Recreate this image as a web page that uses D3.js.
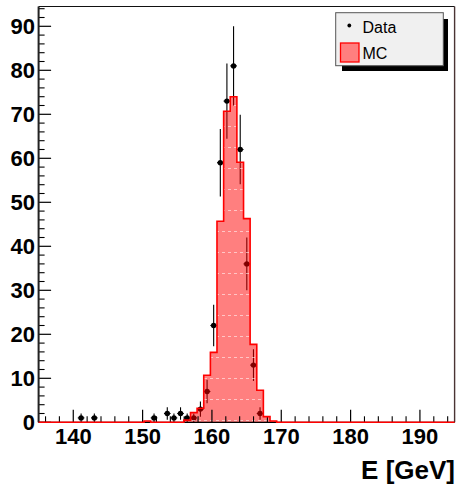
<!DOCTYPE html>
<html>
<head>
<meta charset="utf-8">
<script src="https://cdn.jsdelivr.net/npm/d3@7/dist/d3.min.js"></script>
<style>
  html, body { margin: 0; padding: 0; background: #fff; }
  svg { display: block; }
  text { font-family: "Liberation Sans", Arial, Helvetica, sans-serif; }
</style>
</head>
<body>
<svg id="chart" width="457" height="490"></svg>
<script>
// Histogram binning (GeV)
const binWidth = 0.956;

// Observed events: bin centres and counts
const dataE = [141.13, 143.04, 151.65, 153.56, 154.52, 155.47, 156.43, 157.38, 158.34,
               159.30, 160.25, 161.21, 162.16, 163.12, 164.08, 165.03, 165.99, 166.94];
const dataN = [1, 1, 1, 2, 1, 2, 1, 1, 3, 7, 22, 59, 73, 81, 62, 36, 13, 2];

// Simulated (MC) expectation: bin centres and contents
const mcE = [150.69, 156.43, 157.38, 158.34, 159.30, 160.25, 161.21, 162.16, 163.12,
             164.08, 165.03, 165.99, 166.94, 167.90, 168.86];
const mcN = [0.3, 0.5, 2.2, 3.2, 10.7, 15.9, 45.7, 70.7, 74.0, 59.1, 46.3, 17.7, 7.3, 1.3, 0.3];

// Axis setup
const xDomain = [135, 195];
const yDomain = [0, 94.5];
const xMajor = [140, 150, 160, 170, 180, 190];
const yMajor = [0, 10, 20, 30, 40, 50, 60, 70, 80, 90];
const xMinorStep = 2;
const yMinorStep = 2;

const legendLabels = ["Data", "MC"];
const xTitle = "E [GeV]";

const svg = d3.select("#chart");
const L = 38.6, R = 454.6, T = 6.5, B = 422.3;

const x = d3.scaleLinear().domain(xDomain).range([L, R]);
const y = d3.scaleLinear().domain(yDomain).range([B, T]);

// Fill pattern for the MC histogram: translucent red with faint light streaks
const defs = svg.append("defs");
const pat = defs.append("pattern")
  .attr("id", "mcfill")
  .attr("patternUnits", "userSpaceOnUse")
  .attr("x", 0).attr("y", 0)
  .attr("width", 6).attr("height", 21);
pat.append("rect").attr("x", 0).attr("y", 0).attr("width", 6).attr("height", 21)
  .attr("fill", "#ff0000").attr("fill-opacity", 0.5);
pat.append("rect").attr("x", 0).attr("y", 0).attr("width", 3).attr("height", 1)
  .attr("fill", "#fff").attr("fill-opacity", 0.55);

// Plot frame background
svg.append("rect").attr("x", L).attr("y", T).attr("width", R - L).attr("height", B - T)
  .attr("fill", "#fff");

// Data points with statistical error bars
const gData = svg.append("g");
dataE.forEach((e, i) => {
  const n = dataN[i], err = Math.sqrt(n);
  gData.append("line")
    .attr("x1", x(e)).attr("x2", x(e))
    .attr("y1", y(Math.max(0, n - err))).attr("y2", y(n + err))
    .attr("stroke", "#000").attr("stroke-width", 1.1);
  gData.append("line")
    .attr("x1", x(e - binWidth / 2)).attr("x2", x(e + binWidth / 2))
    .attr("y1", y(n)).attr("y2", y(n))
    .attr("stroke", "#000").attr("stroke-width", 1.1);
  gData.append("circle")
    .attr("cx", x(e)).attr("cy", y(n)).attr("r", 2.7)
    .attr("fill", "#000");
});

// MC histogram envelope: a step outline that only returns to zero across empty bins.
// Neighbouring bins share an edge, so each bin starts where the previous one ended.
const verts = [[xDomain[0], 0]];
let prevHi = null;
mcE.forEach((e, i) => {
  let lo = e - binWidth / 2;
  const hi = e + binWidth / 2;
  const adjacent = prevHi !== null && Math.abs(lo - prevHi) < 0.3 * binWidth;
  if (adjacent) {
    lo = prevHi;
  } else {
    if (prevHi !== null) verts.push([prevHi, 0]);
    verts.push([lo, 0]);
  }
  verts.push([lo, mcN[i]], [hi, mcN[i]]);
  prevHi = hi;
});
verts.push([prevHi, 0]);
verts.push([xDomain[1], 0]);

const area = d3.area().x(d => x(d[0])).y0(y(0)).y1(d => y(d[1]));
const line = d3.line().x(d => x(d[0])).y(d => y(d[1]));

svg.append("path").datum(verts).attr("d", area)
  .attr("fill", "url(#mcfill)").attr("stroke", "none");

// Frame and axes; ticks point into the plot
const gAx = svg.append("g").attr("stroke", "#000");
svg.append("line").attr("x1", L).attr("x2", R).attr("y1", T).attr("y2", T)
  .attr("stroke", "#111").attr("stroke-width", 1.2);
svg.append("line").attr("x1", R).attr("x2", R).attr("y1", T).attr("y2", B)
  .attr("stroke", "#4a3434").attr("stroke-width", 1.4);
svg.append("line").attr("x1", L).attr("x2", L).attr("y1", T).attr("y2", B)
  .attr("stroke", "#222").attr("stroke-width", 2);
svg.append("line").attr("x1", L).attr("x2", R).attr("y1", B).attr("y2", B)
  .attr("stroke", "#000").attr("stroke-width", 1.2);

const xMinor = d3.range(136, xDomain[1], xMinorStep).filter(v => !xMajor.includes(v));
const yMinor = d3.range(0, yDomain[1], yMinorStep).filter(v => !yMajor.includes(v));

xMajor.forEach(v => gAx.append("line").attr("x1", x(v)).attr("x2", x(v))
  .attr("y1", B).attr("y2", B - 12.5).attr("stroke-width", 1.2));
xMinor.forEach(v => gAx.append("line").attr("x1", x(v)).attr("x2", x(v))
  .attr("y1", B).attr("y2", B - 6).attr("stroke-width", 1.1));
yMajor.forEach(v => gAx.append("line").attr("x1", L).attr("x2", L + 12.5)
  .attr("y1", y(v)).attr("y2", y(v)).attr("stroke-width", 1.2));
yMinor.forEach(v => gAx.append("line").attr("x1", L).attr("x2", L + 6)
  .attr("y1", y(v)).attr("y2", y(v)).attr("stroke-width", 1.1));

// MC outline on top
svg.append("path").datum(verts).attr("d", line)
  .attr("fill", "none").attr("stroke", "#ff0000").attr("stroke-width", 1.6)
  .attr("stroke-linejoin", "miter");

// Tick labels
svg.append("g").selectAll("text").data(yMajor).join("text")
  .attr("x", 35).attr("y", d => y(d)).attr("dy", "0.36em")
  .attr("text-anchor", "end")
  .attr("font-size", 22).attr("font-weight", "bold")
  .text(d => d);
svg.append("g").selectAll("text").data(xMajor).join("text")
  .attr("x", d => x(d)).attr("y", 444)
  .attr("text-anchor", "middle")
  .attr("font-size", 22).attr("font-weight", "bold")
  .text(d => d);

// Axis title
svg.append("text").attr("x", 455).attr("y", 479)
  .attr("text-anchor", "end").attr("font-size", 26).attr("font-weight", "bold")
  .text(xTitle);

// Legend with drop shadow
const lg = svg.append("g");
lg.append("rect").attr("x", 342).attr("y", 19).attr("width", 106).attr("height", 52)
  .attr("fill", "#000");
lg.append("rect").attr("x", 335.7).attr("y", 12.7).attr("width", 107.6).attr("height", 53)
  .attr("fill", "#f0f0f0").attr("stroke", "#555").attr("stroke-width", 1);
lg.append("circle").attr("cx", 349.3).attr("cy", 25.5).attr("r", 1.9).attr("fill", "#000");
lg.append("rect").attr("x", 340.5).attr("y", 43).attr("width", 18.5).attr("height", 19)
  .attr("fill", "#fff");
lg.append("rect").attr("x", 340.5).attr("y", 43).attr("width", 18.5).attr("height", 19)
  .attr("fill", "url(#mcfill)").attr("stroke", "#ff0000").attr("stroke-width", 1.3);
lg.append("text").attr("x", 362.5).attr("y", 33).attr("font-size", 16).text(legendLabels[0]);
lg.append("text").attr("x", 362.5).attr("y", 58.6).attr("font-size", 16).text(legendLabels[1]);
</script>
</body>
</html>
